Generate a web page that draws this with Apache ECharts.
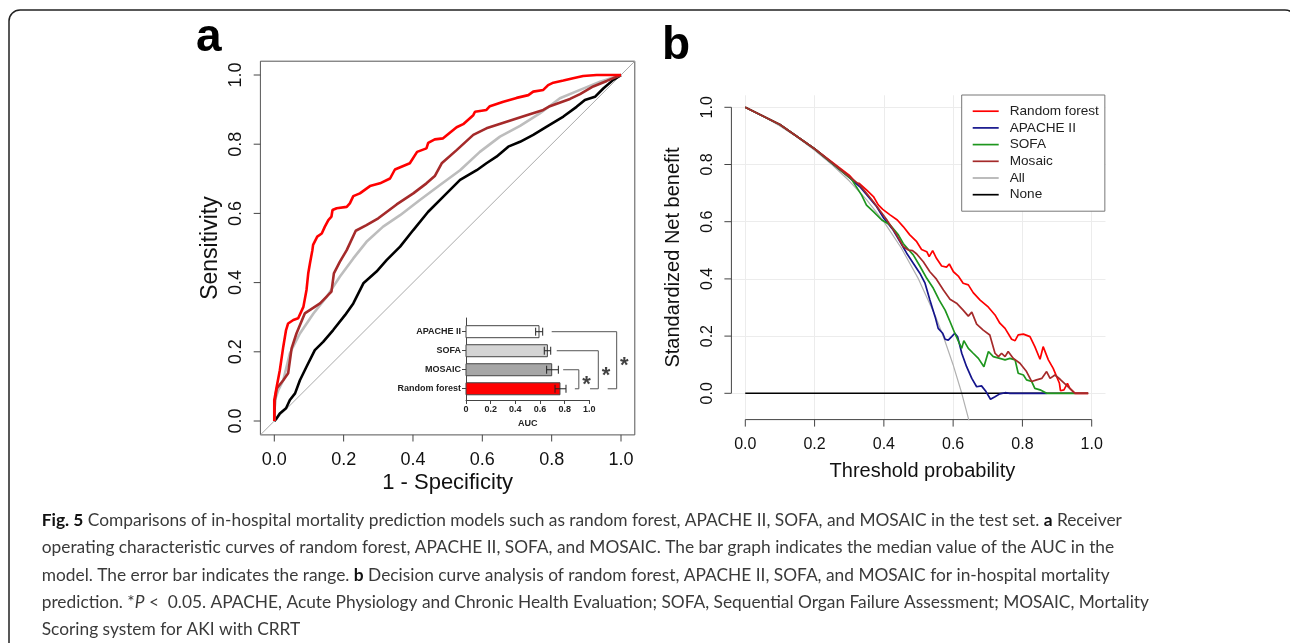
<!DOCTYPE html>
<html>
<head>
<meta charset="utf-8">
<script src="https://cdn.jsdelivr.net/npm/echarts@6/dist/echarts.min.js"></script>
<style>html,body{margin:0;padding:0;background:#fff;}#c{width:1290px;height:643px;}</style>
</head>
<body>
<div id="c"></div>
<script>
// ---------------- DATA ----------------
// Panel a: ROC curves [1 - specificity, sensitivity]
var rocRandomForest = [[0,0],[0,0.06],[0.007,0.099],[0.016,0.147],[0.026,0.215],[0.034,0.263],[0.04,0.282],[0.055,0.292],[0.069,0.297],[0.084,0.33],[0.093,0.379],[0.098,0.427],[0.103,0.456],[0.11,0.494],[0.112,0.509],[0.124,0.533],[0.137,0.542],[0.146,0.562],[0.156,0.581],[0.165,0.591],[0.168,0.61],[0.18,0.615],[0.209,0.619],[0.218,0.629],[0.228,0.65],[0.247,0.658],[0.276,0.679],[0.305,0.687],[0.334,0.701],[0.348,0.727],[0.391,0.745],[0.412,0.778],[0.439,0.788],[0.444,0.804],[0.463,0.814],[0.487,0.817],[0.526,0.849],[0.545,0.858],[0.574,0.884],[0.579,0.894],[0.612,0.899],[0.622,0.91],[0.661,0.923],[0.699,0.934],[0.733,0.942],[0.747,0.952],[0.776,0.957],[0.79,0.971],[0.805,0.978],[0.834,0.984],[0.862,0.991],[0.891,0.997],[0.93,1],[1,1]];
var rocMosaic = [[0,0],[0.002,0.061],[0.007,0.094],[0.026,0.118],[0.04,0.138],[0.05,0.21],[0.064,0.253],[0.088,0.311],[0.132,0.34],[0.165,0.374],[0.17,0.379],[0.172,0.427],[0.189,0.46],[0.209,0.494],[0.235,0.55],[0.266,0.566],[0.3,0.586],[0.353,0.626],[0.401,0.658],[0.439,0.687],[0.463,0.708],[0.483,0.745],[0.526,0.783],[0.574,0.827],[0.612,0.846],[0.67,0.865],[0.728,0.884],[0.776,0.899],[0.795,0.91],[0.853,0.931],[0.882,0.945],[0.92,0.967],[0.959,0.983],[1,1]];
var rocSofa = [[0,0],[0.002,0.061],[0.012,0.09],[0.026,0.118],[0.045,0.196],[0.074,0.253],[0.113,0.311],[0.151,0.359],[0.189,0.417],[0.228,0.47],[0.266,0.518],[0.314,0.562],[0.363,0.595],[0.42,0.639],[0.478,0.682],[0.536,0.725],[0.593,0.778],[0.651,0.822],[0.709,0.853],[0.766,0.889],[0.824,0.933],[0.882,0.957],[0.94,0.981],[1,1]];
var rocApache = [[0,0],[0.007,0.008],[0.016,0.022],[0.034,0.037],[0.045,0.061],[0.06,0.08],[0.074,0.118],[0.093,0.157],[0.117,0.205],[0.141,0.229],[0.17,0.263],[0.204,0.306],[0.228,0.34],[0.257,0.398],[0.295,0.432],[0.324,0.465],[0.363,0.504],[0.401,0.552],[0.444,0.605],[0.487,0.648],[0.536,0.697],[0.584,0.725],[0.612,0.745],[0.641,0.764],[0.675,0.793],[0.709,0.807],[0.747,0.827],[0.786,0.851],[0.834,0.88],[0.872,0.908],[0.896,0.928],[0.925,0.937],[0.949,0.961],[0.978,0.986],[1,1]];
var rocChanceLine = [[-0.04,-0.04],[1.04,1.04]];
var rocTicks = [0, 0.2, 0.4, 0.6, 0.8, 1.0];

// Inset: AUC bar graph (median and range)
var aucModels = ['APACHE II', 'SOFA', 'MOSAIC', 'Random forest'];
var aucMedian = [0.592, 0.660, 0.695, 0.762];
var aucLow    = [0.565, 0.635, 0.654, 0.722];
var aucHigh   = [0.622, 0.687, 0.749, 0.811];
var aucComparisons = [['MOSAIC','Random forest'], ['SOFA','Random forest'], ['APACHE II','Random forest']];
var aucSignificance = ['*', '*', '*'];

// Panel b: decision curves [threshold probability, standardized net benefit]
var dcaRandomForest = [[0,1],[0.1,0.94],[0.2,0.855],[0.3,0.763],[0.321,0.734],[0.329,0.734],[0.35,0.711],[0.37,0.688],[0.384,0.659],[0.397,0.643],[0.418,0.624],[0.439,0.606],[0.456,0.583],[0.475,0.554],[0.495,0.53],[0.509,0.503],[0.524,0.495],[0.531,0.478],[0.541,0.499],[0.552,0.472],[0.567,0.445],[0.581,0.441],[0.589,0.452],[0.601,0.425],[0.615,0.41],[0.629,0.385],[0.644,0.379],[0.658,0.352],[0.678,0.326],[0.702,0.301],[0.721,0.274],[0.735,0.245],[0.75,0.227],[0.769,0.189],[0.779,0.184],[0.788,0.204],[0.803,0.207],[0.822,0.198],[0.836,0.163],[0.851,0.119],[0.86,0.163],[0.875,0.117],[0.889,0.087],[0.907,0.035],[0.91,0.009],[0.92,0.012],[0.93,0.035],[0.937,0.017],[0.952,0],[0.99,0]];
var dcaApache = [[0,1],[0.1,0.94],[0.2,0.855],[0.3,0.755],[0.331,0.722],[0.379,0.653],[0.4,0.612],[0.427,0.571],[0.447,0.53],[0.466,0.49],[0.485,0.455],[0.504,0.42],[0.519,0.385],[0.533,0.326],[0.548,0.268],[0.557,0.227],[0.57,0.21],[0.577,0.189],[0.586,0.186],[0.596,0.198],[0.605,0.21],[0.613,0.198],[0.625,0.14],[0.639,0.093],[0.654,0.052],[0.668,0.023],[0.682,0.026],[0.695,0.006],[0.708,-0.021],[0.721,-0.012],[0.735,-0.002],[0.75,0.002],[0.764,0],[0.87,0]];
var dcaSofa = [[0,1],[0.1,0.94],[0.2,0.855],[0.3,0.755],[0.307,0.748],[0.336,0.693],[0.35,0.658],[0.37,0.635],[0.394,0.606],[0.418,0.589],[0.442,0.554],[0.456,0.524],[0.471,0.503],[0.485,0.484],[0.504,0.445],[0.524,0.402],[0.543,0.367],[0.56,0.326],[0.577,0.291],[0.591,0.251],[0.605,0.21],[0.618,0.175],[0.625,0.157],[0.631,0.184],[0.644,0.157],[0.658,0.14],[0.673,0.122],[0.689,0.093],[0.702,0.146],[0.716,0.128],[0.735,0.122],[0.75,0.117],[0.764,0.122],[0.779,0.117],[0.788,0.07],[0.803,0.064],[0.812,0.047],[0.827,0.041],[0.836,0.017],[0.851,0.012],[0.87,0],[0.952,0]];
var dcaMosaic = [[0,1],[0.1,0.94],[0.2,0.855],[0.3,0.758],[0.331,0.728],[0.37,0.67],[0.408,0.608],[0.437,0.554],[0.456,0.513],[0.471,0.501],[0.483,0.499],[0.495,0.487],[0.514,0.46],[0.533,0.425],[0.552,0.399],[0.572,0.361],[0.591,0.329],[0.61,0.315],[0.629,0.291],[0.644,0.27],[0.654,0.284],[0.668,0.242],[0.687,0.221],[0.706,0.204],[0.721,0.14],[0.731,0.128],[0.74,0.14],[0.75,0.128],[0.759,0.146],[0.774,0.122],[0.793,0.105],[0.812,0.076],[0.827,0.041],[0.841,0.047],[0.856,0.052],[0.87,0.076],[0.88,0.052],[0.894,0.064],[0.909,0.049],[0.923,0.033],[0.937,0.017],[0.952,0],[0.99,0]];
var dcaAll = [[0,1],[0.05,0.97],[0.1,0.935],[0.15,0.895],[0.2,0.85],[0.25,0.8],[0.3,0.743],[0.35,0.677],[0.4,0.6],[0.45,0.509],[0.5,0.4],[0.55,0.267],[0.575,0.188],[0.6,0.1],[0.625,0],[0.648,-0.105]];
var dcaNone = [[0,0],[0.99,0]];
var dcaTicks = [0, 0.2, 0.4, 0.6, 0.8, 1.0];

// ---------------- STYLE / LAYOUT ----------------
var FONT = 'Liberation Sans';
var AXIS_COLOR = '#444';
var rocColors = {rf:'#ff0000', mosaic:'#a52a2a', sofa:'#bdbdbd', apache:'#000000'};
var barColors = ['#ffffff', '#d4d4d4', '#a6a6a6', '#ff0000'];
var dcaColors = {'Random forest':'#ff0000','APACHE II':'#14148c','SOFA':'#1e961e','Mosaic':'#a52a2a','All':'#b0b0b0','None':'#000000'};
var bracketStartX = [0.788, 0.736, 0.695];
var bracketLevelX = [0.915, 1.073, 1.222];
var bracketEndX   = [0.883, 1.006, 1.149];
var starOffsetX = 0.062;
var fmt1 = function (v) { return Number(v).toFixed(1); };
var rowOf = function (name) { return aucModels.indexOf(name); };

var chart = echarts.init(document.getElementById('c'), null, {renderer: 'canvas'});

function fitFont(text, family, target) {
  var ctx = document.createElement('canvas').getContext('2d');
  ctx.font = '100px "' + family + '"';
  return 100 * target / ctx.measureText(text).width;
}
var capLines = [
  '{b|Fig. 5} Comparisons of in-hospital mortality prediction models such as random forest, APACHE II, SOFA, and MOSAIC in the test set. {b|a} Receiver',
  'operating characteristic curves of random forest, APACHE II, SOFA, and MOSAIC. The bar graph indicates the median value of the AUC in the',
  'model. The error bar indicates the range. {b|b} Decision curve analysis of random forest, APACHE II, SOFA, and MOSAIC for in-hospital mortality',
  'prediction. *{i|P} <  0.05. APACHE, Acute Physiology and Chronic Health Evaluation; SOFA, Sequential Organ Failure Assessment; MOSAIC, Mortality',
  'Scoring system for AKI with CRRT'
];
var CAP_FONT = 'Lato';
var capSize = fitFont(capLines[1], CAP_FONT, 1073);
if (!(capSize > 12 && capSize < 22)) capSize = 17;
var capBaselines = [526, 553.3, 580.6, 607.9, 635.2];

var graphics = [
  {type:'rect', shape:{x:9, y:10, width:1287, height:700, r:11}, style:{fill:'none', stroke:'#222', lineWidth:1.5}, silent:true, z:-1},
  {type:'text', x:196, y:52.7 - 0.31*46, style:{text:'a', font:'bold 46px "' + FONT + '"', fill:'#000', textVerticalAlign:'middle'}},
  {type:'text', x:662, y:60.7 - 0.31*46, style:{text:'b', font:'bold 46px "' + FONT + '"', fill:'#000', textVerticalAlign:'middle'}}
];
capLines.forEach(function (t, i) {
  graphics.push({type:'text', x:41.7, y:capBaselines[i] - 0.32*capSize,
    style:{text:t, fontFamily:CAP_FONT, fontSize:capSize, fill:'#3a3a3a', verticalAlign:'middle',
      rich:{b:{fontFamily:CAP_FONT, fontSize:capSize, fontWeight:'bold', fill:'#111'}, i:{fontFamily:CAP_FONT, fontSize:capSize, fontStyle:'italic', fill:'#3a3a3a'}}}});
});

function off() { return {show:false}; }
function noLine() { return {show:false, onZero:false}; }
function hiddenAxis(grid, min, max) { return {gridIndex:grid, type:'value', min:min, max:max, show:false, axisLine:noLine()}; }
function lineSt() { return {color:AXIS_COLOR, width:1}; }
// label-only axis for the tick strips (ticks/line are drawn by the custom axis series below)
function labelAxis(grid, size, margin, rotate) {
  return {gridIndex:grid, type:'value', min:0, max:1, interval:0.2, axisLine:noLine(), axisTick:off(), splitLine:off(),
    axisLabel:{show:true, margin:margin, fontSize:size, color:'#111', fontFamily:FONT, formatter:fmt1, rotate:rotate || 0}};
}

var option = {
  animation: false,
  backgroundColor: '#ffffff',
  graphic: graphics,
  grid: [
    {left:260.4, top:61.2, width:374.4, height:373.7, show:true, borderColor:'#555', borderWidth:1}, // 0 ROC data
    {left:274.3, top:424.8, width:346.7, height:10},   // 1 ROC x axis strip
    {left:260.4, top:75, width:10, height:346},        // 2 ROC y axis strip
    {left:466, top:318, width:123.3, height:82},       // 3 inset bars
    {left:466, top:322.2, width:123.3, height:76},     // 4 inset labels
    {left:466, top:318, width:160.3, height:82},       // 5 inset brackets
    {left:731.4, top:95.3, width:374.1, height:324.3}, // 6 DCA data
    {left:745.3, top:409.6, width:346.4, height:10},   // 7 DCA x axis strip
    {left:731.4, top:107.3, width:10, height:286}      // 8 DCA y axis strip
  ],
  xAxis: [
    {gridIndex:0, type:'value', min:-0.04, max:1.04, axisLine:noLine(), axisTick:off(), axisLabel:off(), splitLine:off(),
      name:'1 - Specificity', nameLocation:'middle', nameGap:37, nameTextStyle:{fontSize:22, color:'#111', fontFamily:FONT}},
    labelAxis(1, 18, 16.4),
    hiddenAxis(2, 0, 1),
    {gridIndex:3, type:'value', min:0, max:1, interval:0.2,
      axisLine:{show:true, onZero:false, lineStyle:lineSt()},
      axisTick:{show:true, inside:false, length:4, lineStyle:lineSt()},
      axisLabel:{show:true, margin:5.5, fontSize:9, fontWeight:'bold', color:'#222', fontFamily:FONT, formatter:function(v){return v===0?'0':Number(v).toFixed(1);}},
      splitLine:off(), name:'AUC', nameLocation:'middle', nameGap:19.5, nameTextStyle:{fontSize:9, fontWeight:'bold', color:'#222', fontFamily:FONT}},
    hiddenAxis(4, 0, 1),
    hiddenAxis(5, 0, 1.3),
    {gridIndex:6, type:'value', min:-0.04, max:1.04, axisLine:noLine(), axisTick:off(), axisLabel:off(), splitLine:off(),
      name:'Threshold probability', nameLocation:'middle', nameGap:42, nameTextStyle:{fontSize:20, color:'#111', fontFamily:FONT, padding:[0,0,0,8]}},
    labelAxis(7, 16, 17.4),
    hiddenAxis(8, 0, 1)
  ],
  yAxis: [
    {gridIndex:0, type:'value', min:-0.04, max:1.04, axisLine:noLine(), axisTick:off(), axisLabel:off(), splitLine:off(),
      name:'Sensitivity', nameLocation:'middle', nameGap:38.5, nameTextStyle:{fontSize:23, color:'#111', fontFamily:FONT}},
    hiddenAxis(1, 0, 1),
    labelAxis(2, 18, 15, 90),
    {gridIndex:3, type:'value', min:-0.72, max:3.59, inverse:true, axisLine:{show:true, onZero:false, lineStyle:lineSt()},
      axisTick:off(), axisLabel:off(), splitLine:off()},
    {gridIndex:4, type:'category', data:aucModels, inverse:true, axisLine:noLine(),
      axisTick:{show:true, inside:false, length:4, alignWithLabel:true, lineStyle:lineSt()},
      axisLabel:{show:true, margin:5, fontSize:9, fontWeight:'bold', color:'#222', fontFamily:FONT}, splitLine:off()},
    {gridIndex:5, type:'value', min:-0.72, max:3.59, inverse:true, show:false, axisLine:noLine()},
    {gridIndex:6, type:'value', min:-0.092, max:1.042, axisLine:noLine(), axisTick:off(), axisLabel:off(), splitLine:off(),
      name:'Standardized Net benefit', nameLocation:'middle', nameGap:47.6, nameTextStyle:{fontSize:20, color:'#111', fontFamily:FONT}},
    hiddenAxis(7, 0, 1),
    labelAxis(8, 16, 15.7, 90)
  ],
  legend: {
    left:961.7, top:95, orient:'vertical', backgroundColor:'#ffffff', borderColor:'#777', borderWidth:1,
    padding:[9.2, 6, 9.5, 11], itemWidth:26, itemHeight:1.7, itemGap:2.7, icon:'rect',
    textStyle:{fontSize:13.6, color:'#222', fontFamily:FONT, padding:[0,0,0,6]},
    data:['Random forest','APACHE II','SOFA','Mosaic','All','None'], selectedMode:false
  },
  series: []
};

// axis line + ticks drawn through the strip grids' own scales
function axisSeries(idx, dim, ticks, tickLen, drawLine) {
  return {
    name:'axis ' + idx, type:'custom', xAxisIndex:idx, yAxisIndex:idx, silent:true, z:3, clip:false,
    data: ticks.map(function (v) { return dim === 'x' ? [v, 0] : [0, v]; }),
    encode: {x:0, y:1},
    renderItem: function (params, api) {
      var p = api.coord([api.value(0), api.value(1)]);
      var st = {stroke:AXIS_COLOR, lineWidth:1};
      var kids = [];
      if (dim === 'x') kids.push({type:'line', shape:{x1:p[0], y1:p[1], x2:p[0], y2:p[1] + tickLen}, style:st});
      else kids.push({type:'line', shape:{x1:p[0], y1:p[1], x2:p[0] - tickLen, y2:p[1]}, style:st});
      if (drawLine && params.dataIndex === 0) {
        var a = dim === 'x' ? api.coord([ticks[0], 0]) : api.coord([0, ticks[0]]);
        var b = dim === 'x' ? api.coord([ticks[ticks.length - 1], 0]) : api.coord([0, ticks[ticks.length - 1]]);
        kids.push({type:'line', shape:{x1:a[0], y1:a[1], x2:b[0], y2:b[1]}, style:st});
      }
      return {type:'group', children:kids};
    }
  };
}
option.series.push(axisSeries(1, 'x', rocTicks, 6.7, false));
option.series.push(axisSeries(2, 'y', rocTicks, 6.7, false));
option.series.push(axisSeries(7, 'x', dcaTicks, 7, true));
option.series.push(axisSeries(8, 'y', dcaTicks, 7, true));
option.series.push({name:'inset label anchor', type:'line', xAxisIndex:4, yAxisIndex:4, data:[[0, aucModels[0]]], symbol:'none', silent:true, lineStyle:{opacity:0}});

function rocLine(name, data, color, width) {
  return {name:name, type:'line', xAxisIndex:0, yAxisIndex:0, data:data, symbol:'none', silent:true,
    lineStyle:{color:color, width:width}, itemStyle:{color:color}};
}
option.series.push(rocLine('ROC chance', rocChanceLine, '#aaaaaa', 1));
option.series.push(rocLine('ROC APACHE II', rocApache, rocColors.apache, 2.6));
option.series.push(rocLine('ROC SOFA', rocSofa, rocColors.sofa, 2.6));
option.series.push(rocLine('ROC MOSAIC', rocMosaic, rocColors.mosaic, 2.6));
option.series.push(rocLine('ROC Random forest', rocRandomForest, rocColors.rf, 2.6));

option.series.push({
  name:'AUC', type:'custom', xAxisIndex:3, yAxisIndex:3, silent:true,
  data: aucModels.map(function (m, i) { return [i, aucMedian[i], aucLow[i], aucHigh[i]]; }),
  encode:{x:[1,2,3], y:0},
  renderItem: function (params, api) {
    var row = api.value(0), med = api.value(1), lo = api.value(2), hi = api.value(3);
    var a = api.coord([0, row]), b = api.coord([med, row]);
    var l = api.coord([lo, row]), h = api.coord([hi, row]);
    var bh = 12, cap = 4;
    var ls = {stroke:'#222', lineWidth:1};
    return {type:'group', children:[
      {type:'rect', shape:{x:a[0], y:a[1]-bh/2, width:b[0]-a[0], height:bh}, style:{fill:barColors[row], stroke:'#444', lineWidth:1}},
      {type:'line', shape:{x1:l[0], y1:l[1], x2:h[0], y2:h[1]}, style:ls},
      {type:'line', shape:{x1:l[0], y1:l[1]-cap, x2:l[0], y2:l[1]+cap}, style:ls},
      {type:'line', shape:{x1:h[0], y1:h[1]-cap, x2:h[0], y2:h[1]+cap}, style:ls}
    ]};
  }
});

aucComparisons.forEach(function (pair, k) {
  var ra = rowOf(pair[0]), rb = rowOf(pair[1]);
  option.series.push({
    name:'bracket ' + pair[0], type:'line', xAxisIndex:5, yAxisIndex:5, symbol:'none', silent:true,
    data:[[bracketStartX[k], ra], [bracketLevelX[k], ra], [bracketLevelX[k], rb], [bracketEndX[k], rb]],
    lineStyle:{color:'#555', width:1}
  });
  option.series.push({
    name:'significance ' + pair[0], type:'scatter', xAxisIndex:5, yAxisIndex:5, silent:true,
    data:[[bracketLevelX[k] + starOffsetX, (ra + rb) / 2]], symbolSize:0, itemStyle:{color:'rgba(0,0,0,0)'},
    label:{show:true, position:'inside', formatter:aucSignificance[k], fontSize:22, fontWeight:'bold', color:'#111', fontFamily:FONT, offset:[0, 6]}
  });
});

option.series.push({
  name:'dca grid', type:'line', xAxisIndex:6, yAxisIndex:6, data:[[0,0]], symbol:'none', silent:true, z:1,
  lineStyle:{opacity:0},
  markLine:{silent:true, z:1, symbol:'none', label:{show:false}, animation:false,
    lineStyle:{color:'#ececec', type:'solid', width:1},
    data: dcaTicks.map(function (v) { return {xAxis:v}; }).concat(dcaTicks.map(function (v) { return {yAxis:v}; }))}
});
function dcaLine(name, data, width) {
  return {name:name, type:'line', xAxisIndex:6, yAxisIndex:6, data:data, symbol:'none', silent:true, z:3, clip:true,
    lineStyle:{color:dcaColors[name], width:width}, itemStyle:{color:dcaColors[name]}};
}
option.series.push(dcaLine('All', dcaAll, 1.2));
option.series.push(dcaLine('None', dcaNone, 1.4));
option.series.push(dcaLine('Random forest', dcaRandomForest, 1.7));
option.series.push(dcaLine('APACHE II', dcaApache, 1.7));
option.series.push(dcaLine('SOFA', dcaSofa, 1.7));
option.series.push(dcaLine('Mosaic', dcaMosaic, 1.7));

chart.setOption(option);
</script>
</body>
</html>
